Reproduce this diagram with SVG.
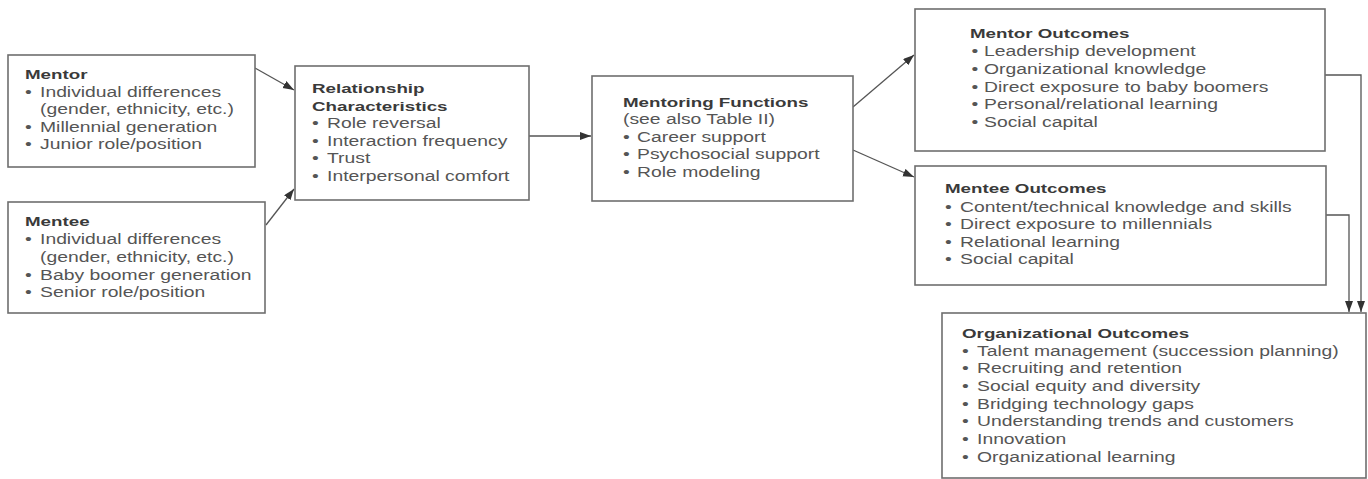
<svg xmlns="http://www.w3.org/2000/svg" width="1368" height="479" viewBox="0 0 1368 479">
<style>
.box{fill:#ffffff;stroke:#6e6e6e;stroke-width:1.6}
text{font-family:"Liberation Sans",Arial,sans-serif;font-size:14px;fill:#555555}
.h{font-weight:bold;fill:#3a3a3a;font-size:13.6px}
.c{fill:none;stroke:#555555;stroke-width:1.3}
</style>
<defs>
<marker id="ah" markerUnits="userSpaceOnUse" markerWidth="12" markerHeight="10" refX="11" refY="4" orient="auto">
<path d="M0,0 L11,4 L0,8 Z" fill="#333333"/>
</marker>
</defs>
<rect width="1368" height="479" fill="#ffffff"/>

<g id="connectors">
<line class="c" x1="255" y1="68" x2="294" y2="90" marker-end="url(#ah)"/>
<line class="c" x1="266" y1="225" x2="294" y2="189" marker-end="url(#ah)"/>
<line class="c" x1="529" y1="136" x2="591" y2="136" marker-end="url(#ah)"/>
<line class="c" x1="853" y1="107" x2="914" y2="55" marker-end="url(#ah)"/>
<line class="c" x1="853" y1="150" x2="914" y2="177" marker-end="url(#ah)"/>
<polyline class="c" points="1325,75 1361,75 1361,312" marker-end="url(#ah)"/>
<polyline class="c" points="1326,215 1349,215 1349,312" marker-end="url(#ah)"/>
</g>

<g id="mentor">
<rect class="box" x="8" y="55" width="247" height="112"/>
<g transform="translate(25,0) scale(1.38,1)">
<text class="h" x="0" y="79">Mentor</text>
<text y="97"><tspan x="0">•</tspan><tspan x="10.9">Individual differences</tspan></text>
<text x="10.9" y="114">(gender, ethnicity, etc.)</text>
<text y="132"><tspan x="0">•</tspan><tspan x="10.9">Millennial generation</tspan></text>
<text y="149"><tspan x="0">•</tspan><tspan x="10.9">Junior role/position</tspan></text>
</g>
</g>

<g id="mentee">
<rect class="box" x="8" y="202" width="257" height="111"/>
<g transform="translate(25,0) scale(1.38,1)">
<text class="h" x="0" y="226">Mentee</text>
<text y="244"><tspan x="0">•</tspan><tspan x="10.9">Individual differences</tspan></text>
<text x="10.9" y="262">(gender, ethnicity, etc.)</text>
<text y="280"><tspan x="0">•</tspan><tspan x="10.9">Baby boomer generation</tspan></text>
<text y="297"><tspan x="0">•</tspan><tspan x="10.9">Senior role/position</tspan></text>
</g>
</g>

<g id="relationship">
<rect class="box" x="295" y="66" width="234" height="134"/>
<g transform="translate(312,0) scale(1.38,1)">
<text class="h" x="0" y="93">Relationship</text>
<text class="h" x="0" y="111">Characteristics</text>
<text y="128"><tspan x="0">•</tspan><tspan x="10.9">Role reversal</tspan></text>
<text y="146"><tspan x="0">•</tspan><tspan x="10.9">Interaction frequency</tspan></text>
<text y="163"><tspan x="0">•</tspan><tspan x="10.9">Trust</tspan></text>
<text y="181"><tspan x="0">•</tspan><tspan x="10.9">Interpersonal comfort</tspan></text>
</g>
</g>

<g id="functions">
<rect class="box" x="592" y="76" width="261" height="125"/>
<g transform="translate(623,0) scale(1.38,1)">
<text class="h" x="0" y="107">Mentoring Functions</text>
<text x="0" y="124">(see also Table II)</text>
<text y="142"><tspan x="0">•</tspan><tspan x="10.2">Career support</tspan></text>
<text y="159"><tspan x="0">•</tspan><tspan x="10.2">Psychosocial support</tspan></text>
<text y="177"><tspan x="0">•</tspan><tspan x="10.2">Role modeling</tspan></text>
</g>
</g>

<g id="mentor-outcomes">
<rect class="box" x="915" y="9" width="410" height="142"/>
<g transform="translate(970,0) scale(1.38,1)">
<text class="h" x="0" y="38">Mentor Outcomes</text>
<text y="56"><tspan x="1">•</tspan><tspan x="10.2">Leadership development</tspan></text>
<text y="74"><tspan x="1">•</tspan><tspan x="10.2">Organizational knowledge</tspan></text>
<text y="92"><tspan x="1">•</tspan><tspan x="10.2">Direct exposure to baby boomers</tspan></text>
<text y="109"><tspan x="1">•</tspan><tspan x="10.2">Personal/relational learning</tspan></text>
<text y="127"><tspan x="1">•</tspan><tspan x="10.2">Social capital</tspan></text>
</g>
</g>

<g id="mentee-outcomes">
<rect class="box" x="915" y="166" width="411" height="119"/>
<g transform="translate(945,0) scale(1.38,1)">
<text class="h" x="0" y="193">Mentee Outcomes</text>
<text y="212"><tspan x="0">•</tspan><tspan x="10.9">Content/technical knowledge and skills</tspan></text>
<text y="229"><tspan x="0">•</tspan><tspan x="10.9">Direct exposure to millennials</tspan></text>
<text y="247"><tspan x="0">•</tspan><tspan x="10.9">Relational learning</tspan></text>
<text y="264"><tspan x="0">•</tspan><tspan x="10.9">Social capital</tspan></text>
</g>
</g>

<g id="organizational-outcomes">
<rect class="box" x="942" y="313" width="424" height="165"/>
<g transform="translate(962,0) scale(1.38,1)">
<text class="h" x="0" y="338">Organizational Outcomes</text>
<text y="356"><tspan x="0">•</tspan><tspan x="10.9">Talent management (succession planning)</tspan></text>
<text y="373"><tspan x="0">•</tspan><tspan x="10.9">Recruiting and retention</tspan></text>
<text y="391"><tspan x="0">•</tspan><tspan x="10.9">Social equity and diversity</tspan></text>
<text y="409"><tspan x="0">•</tspan><tspan x="10.9">Bridging technology gaps</tspan></text>
<text y="426"><tspan x="0">•</tspan><tspan x="10.9">Understanding trends and customers</tspan></text>
<text y="444"><tspan x="0">•</tspan><tspan x="10.9">Innovation</tspan></text>
<text y="462"><tspan x="0">•</tspan><tspan x="10.9">Organizational learning</tspan></text>
</g>
</g>
</svg>
